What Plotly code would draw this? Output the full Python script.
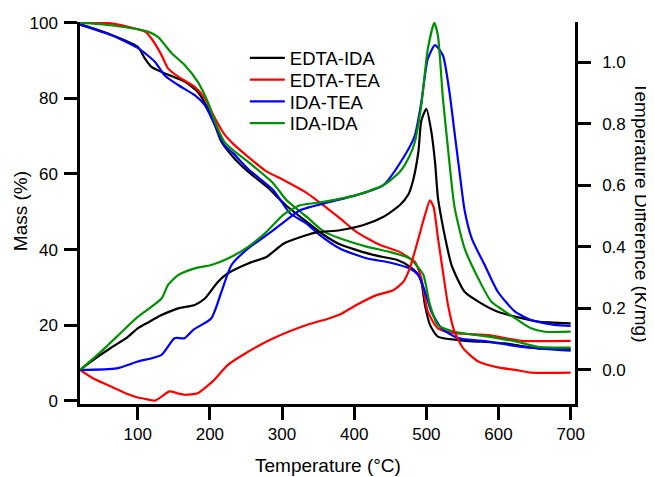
import plotly.graph_objects as go

# ---------------- data ----------------
series_names = ["EDTA-IDA", "EDTA-TEA", "IDA-TEA", "IDA-IDA"]
series_colors = ["#000000", "#FF0000", "#0000FF", "#009000"]

# Mass (%) curves (left axis)
edta_ida_mass_T = [20, 63, 100, 110, 119, 137, 165, 183, 197, 207, 216, 234, 253, 279, 306, 334, 357, 380,
                   426, 459, 477, 487, 493, 498, 505, 516, 544, 609, 655, 700]
edta_ida_mass = [99.6, 96.8, 93.6, 90.5, 88.3, 86.6, 84.4, 81.7, 77.3, 72.9, 68.5, 64.1, 60.6, 56.6, 51.6, 47.4,
                 44.0, 41.4, 38.6, 37.3, 35.5, 33.8, 31.5, 25.4, 20.1, 17.0, 16.1, 15.2, 13.9, 13.7]

edta_tea_mass_T = [20, 63, 110, 119, 133, 142, 156, 179, 193, 207, 220, 232, 253, 279, 302, 334, 352, 380,
                   403, 436, 463, 477, 484, 493, 502, 516, 539, 586, 609, 632, 700]
edta_tea_mass = [100, 99.8, 97.6, 95.8, 91.4, 87.9, 85.7, 83.0, 80.0, 74.7, 70.5, 68.0, 64.5, 60.6, 58.4, 55.0,
                 52.5, 48.3, 44.7, 41.2, 39.4, 37.7, 36.8, 32.4, 23.6, 19.2, 17.9, 17.4, 16.6, 15.9, 15.9]

ida_tea_mass_T = [20, 63, 100, 124, 137, 156, 179, 193, 207, 220, 232, 253, 288, 311, 334, 352, 380, 417,
                  449, 477, 489, 498, 507, 521, 544, 586, 632, 700]
ida_tea_mass = [99.4, 96.7, 93.3, 89.6, 86.1, 83.5, 80.8, 78.2, 72.9, 67.6, 65.5, 61.3, 55.7, 49.6, 46.9, 43.9,
                40.3, 37.7, 36.6, 35.0, 33.3, 28.9, 23.6, 19.2, 16.6, 15.7, 14.3, 13.3]

ida_ida_mass_T = [20, 63, 114, 128, 147, 165, 183, 197, 207, 220, 232, 253, 288, 306, 334, 357, 380, 417,
                  449, 477, 486, 496, 505, 516, 539, 586, 627, 655, 700]
ida_ida_mass = [100, 99.3, 97.6, 96.2, 91.9, 88.8, 84.4, 79.1, 73.8, 68.5, 66.3, 63.2, 57.5, 53.1, 48.7, 44.9,
                43.0, 40.8, 39.4, 37.7, 35.9, 33.3, 25.4, 20.1, 18.3, 17.0, 15.6, 14.3, 14.1]

# Temperature difference (K/mg) curves (right axis)
edta_ida_dta_T = [20, 40, 63, 85, 100, 115, 133, 156, 179, 193, 211, 225, 253, 279, 302, 330, 348, 380, 412, 440,
                  463, 475, 482, 489, 493, 500, 507, 512, 516, 521, 526, 535, 553, 572, 599, 632, 655, 700]
edta_ida_dta = [0.0, 0.035, 0.072, 0.105, 0.135, 0.155, 0.178, 0.2, 0.211, 0.232, 0.286, 0.314, 0.346, 0.368, 0.41,
                0.435, 0.447, 0.454, 0.47, 0.497, 0.535, 0.57, 0.62, 0.71, 0.81, 0.849, 0.773, 0.676, 0.56, 0.49,
                0.43, 0.34, 0.254, 0.222, 0.189, 0.168, 0.157, 0.151]

edta_tea_dta_T = [20, 40, 63, 85, 100, 112, 124, 133, 144, 155, 165, 183, 195, 205, 225, 253, 288, 334, 366, 380,
                  403, 431, 454, 468, 477, 489, 498, 505, 510, 516, 523, 530, 539, 551, 572, 599, 623, 645, 700]
edta_tea_dta = [0.0, -0.03, -0.054, -0.078, -0.09, -0.095, -0.1, -0.087, -0.07, -0.076, -0.081, -0.076, -0.055,
                -0.035, 0.016, 0.059, 0.103, 0.146, 0.168, 0.18, 0.211, 0.243, 0.259, 0.286, 0.33, 0.427, 0.503,
                0.551, 0.53, 0.43, 0.319, 0.211, 0.124, 0.07, 0.027, 0.008, 0.0, -0.009, -0.009]

ida_tea_dta_T = [20, 71, 100, 133, 151, 165, 177, 202, 216, 230, 253, 269, 288, 306, 325, 366, 403, 440, 470, 484,
                 493, 502, 512, 523, 532, 539, 546, 553, 563, 581, 599, 623, 645, 678, 700]
ida_tea_dta = [0.0, 0.005, 0.027, 0.049, 0.103, 0.103, 0.13, 0.168, 0.254, 0.341, 0.395, 0.422, 0.454, 0.487,
               0.519, 0.546, 0.568, 0.6, 0.697, 0.762, 0.87, 1.011, 1.056, 1.022, 0.903, 0.773, 0.643, 0.519,
               0.427, 0.34, 0.254, 0.189, 0.162, 0.146, 0.143]

ida_ida_dta_T = [20, 48, 71, 100, 133, 142, 156, 179, 202, 225, 253, 279, 302, 325, 357, 403, 440, 463, 477, 484,
                 493, 502, 511, 516, 523, 530, 539, 553, 572, 590, 623, 645, 664, 700]
ida_ida_dta = [0.0, 0.057, 0.108, 0.172, 0.232, 0.276, 0.308, 0.33, 0.341, 0.362, 0.4, 0.45, 0.505, 0.535, 0.546,
               0.568, 0.6, 0.643, 0.697, 0.741, 0.86, 1.043, 1.128, 1.087, 0.881, 0.719, 0.53, 0.395, 0.297,
               0.222, 0.168, 0.135, 0.124, 0.124]

x_ticks = [100, 200, 300, 400, 500, 600, 700]
mass_ticks = [0, 20, 40, 60, 80, 100]
dta_ticks = [0.0, 0.2, 0.4, 0.6, 0.8, 1.0]

mass_sets = [(edta_ida_mass_T, edta_ida_mass), (edta_tea_mass_T, edta_tea_mass),
             (ida_tea_mass_T, ida_tea_mass), (ida_ida_mass_T, ida_ida_mass)]
dta_sets = [(edta_ida_dta_T, edta_ida_dta), (edta_tea_dta_T, edta_tea_dta),
            (ida_tea_dta_T, ida_tea_dta), (ida_ida_dta_T, ida_ida_dta)]

# ---------------- figure ----------------
FONT = "Liberation Sans, Arial, sans-serif"
fig = go.Figure()
legend_ids = ["legend", "legend2", "legend3", "legend4"]

for i, name in enumerate(series_names):
    tx, ty = mass_sets[i]
    fig.add_trace(go.Scatter(x=tx, y=ty, mode="lines", name=name,
                             line=dict(color=series_colors[i], width=2.2, shape="spline", smoothing=0.6),
                             legendgroup=name, legend=legend_ids[i], yaxis="y"))
for i, name in enumerate(series_names):
    tx, ty = dta_sets[i]
    fig.add_trace(go.Scatter(x=tx, y=ty, mode="lines", name=name, showlegend=False,
                             line=dict(color=series_colors[i], width=2.2, shape="spline", smoothing=0.6),
                             legendgroup=name, yaxis="y2"))

axis_common = dict(showline=True, linewidth=2.5, linecolor="black", ticks="outside", ticklen=13,
                   tickwidth=2.5, tickcolor="black", showgrid=False, zeroline=False, automargin=False,
                   tickfont=dict(family=FONT, size=17, color="black"))

legend_rows = [0.905, 0.848, 0.791, 0.734]
leg_common = dict(x=0.333, xanchor="left", yanchor="middle", bgcolor="rgba(0,0,0,0)",
                  font=dict(family=FONT, size=18.5, color="black"), itemwidth=35)

layout_legends = {}
for lid, yy in zip(legend_ids, legend_rows):
    layout_legends[lid] = dict(leg_common, y=yy)

# the page adds an 8px body margin, so the figure is 8px smaller on each axis
fig.update_layout(
    width=646, height=469,
    margin=dict(l=72, r=79, t=14, b=73),
    paper_bgcolor="white", plot_bgcolor="white",
    font=dict(family=FONT, color="black"),
    xaxis=dict(axis_common, range=[20, 706], tickvals=x_ticks),
    yaxis=dict(axis_common, range=[-0.8, 100.15], tickvals=mass_ticks, ticklabelstandoff=3),
    yaxis2=dict(axis_common, range=[-0.111, 1.131], tickvals=dta_ticks, tickformat=".1f",
                overlaying="y", side="right", ticklabelstandoff=8),
    annotations=[
        dict(text="Mass (%)", x=-0.121, y=0.505, xref="paper", yref="paper", showarrow=False,
             textangle=-90, font=dict(family=FONT, size=19), xanchor="center", yanchor="middle"),
        dict(text="Temperature (°C)", x=0.502, y=-0.162, xref="paper", yref="paper", showarrow=False,
             font=dict(family=FONT, size=19), xanchor="center", yanchor="middle"),
        dict(text="Temperature Difference (K/mg)", x=1.133, y=0.503, xref="paper", yref="paper",
             showarrow=False, textangle=90, font=dict(family=FONT, size=19),
             xanchor="center", yanchor="middle"),
    ],
    **layout_legends,
)

fig.write_html("out.html")
